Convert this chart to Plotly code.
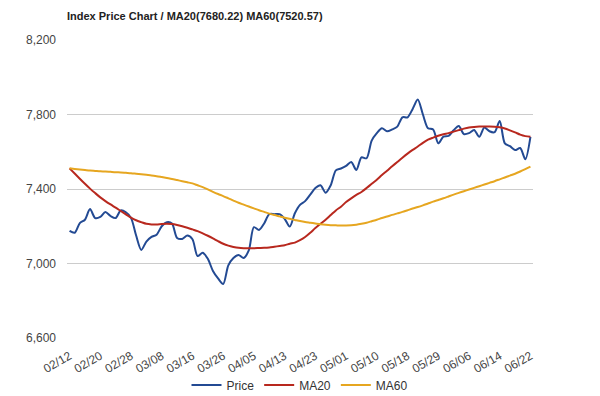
import plotly.graph_objects as go

tick_labels = ["02/12", "02/20", "02/28", "03/08", "03/16", "03/26", "04/05", "04/13",
               "04/23", "05/01", "05/10", "05/18", "05/29", "06/06", "06/14", "06/22"]

price = [7175, 7165, 7217, 7235, 7292, 7244, 7250, 7277, 7255, 7244,
         7285, 7275, 7245, 7150, 7073, 7118, 7143, 7155, 7200, 7222,
         7215, 7137, 7132, 7150, 7130, 7040, 7058, 7025, 6960, 6920,
         6890, 6990, 7030, 7046, 7030, 7070, 7195, 7180, 7215, 7265,
         7265, 7265, 7240, 7198, 7270, 7315, 7335, 7370, 7405, 7420,
         7380, 7420, 7500, 7510, 7524, 7545, 7502, 7570, 7565, 7660,
         7700, 7726, 7710, 7720, 7735, 7785, 7785, 7830, 7880, 7800,
         7726, 7720, 7645, 7681, 7685, 7715, 7738, 7695, 7700, 7717,
         7680, 7730, 7710, 7705, 7765, 7645, 7630, 7609, 7620, 7560,
         7680]

ma20 = [7511, 7483, 7455, 7428, 7402, 7378, 7355, 7335, 7317, 7300,
        7282, 7264, 7246, 7232, 7222, 7213, 7210, 7210, 7212, 7213,
        7212, 7207, 7200, 7192, 7183, 7174, 7162, 7149, 7135, 7120,
        7106, 7096, 7089, 7084, 7082, 7082, 7082, 7083, 7084, 7086,
        7090, 7094, 7098, 7106, 7112, 7125, 7142, 7165, 7190, 7213,
        7235, 7260, 7285, 7305, 7330, 7350, 7368, 7384, 7405, 7428,
        7450, 7475, 7498, 7522, 7545, 7568, 7590, 7610, 7628, 7648,
        7665, 7676, 7686, 7694, 7700, 7708, 7716, 7724, 7730, 7733,
        7735, 7735, 7735, 7734, 7731, 7725, 7715, 7704, 7692, 7684,
        7680.22]

ma60 = [7511, 7508, 7505, 7502, 7499, 7497, 7495, 7494, 7492, 7490,
        7489, 7487, 7485, 7482, 7479, 7476, 7473, 7469, 7464, 7459,
        7454, 7448, 7442, 7436, 7430, 7420, 7410, 7398, 7385, 7373,
        7362, 7350, 7338, 7326, 7316, 7306, 7296, 7286, 7277, 7268,
        7260, 7253, 7246, 7240, 7234, 7228, 7223, 7219, 7215, 7211,
        7208, 7206, 7205, 7204, 7204, 7205, 7208, 7213, 7219, 7227,
        7235, 7244, 7252, 7261, 7269, 7277, 7286, 7295, 7303, 7312,
        7322, 7332, 7341, 7350, 7360, 7370, 7379, 7388, 7397, 7406,
        7415, 7424, 7433, 7442, 7452, 7462, 7472, 7482, 7494, 7507,
        7520.57]

label_step = 6
x_idx = list(range(len(price)))
tick_vals = [i * label_step for i in range(len(tick_labels))]

# the page body has an 8px margin, so the figure is sized to fit the window
W, H = 592, 388

fig = go.Figure()
fig.add_trace(go.Scatter(x=x_idx, y=price, mode="lines", name="Price",
                         line=dict(color="#234a93", width=2, shape="spline", smoothing=0.8)))
fig.add_trace(go.Scatter(x=x_idx, y=ma20, mode="lines", name="MA20",
                         line=dict(color="#b8281e", width=2, shape="spline", smoothing=0.8)))
fig.add_trace(go.Scatter(x=x_idx, y=ma60, mode="lines", name="MA60",
                         line=dict(color="#e6a620", width=2, shape="spline", smoothing=0.8)))

fig.update_layout(
    width=W, height=H,
    margin=dict(l=59, r=67, t=32, b=58, autoexpand=False),
    paper_bgcolor="white", plot_bgcolor="white",
    font=dict(family="Liberation Sans, Arial, sans-serif", size=12, color="#444444"),
    title=dict(text="<b>Index Price Chart / MA20(7680.22) MA60(7520.57)</b>",
               x=59 / W, xanchor="left", xref="container",
               y=1 - 8 / H, yanchor="middle", pad=dict(l=0, t=0, b=0, r=0),
               font=dict(size=11, color="#222222")),
    showlegend=True,
    legend=dict(orientation="h", x=0.5, xanchor="center",
                yref="container", y=1 - 377 / H, yanchor="middle",
                font=dict(size=12, color="#333333"), itemwidth=30, bgcolor="rgba(0,0,0,0)"),
    xaxis=dict(range=[-0.5, len(price) - 0.5], tickmode="array", tickvals=tick_vals,
               ticktext=tick_labels, tickangle=-30, showgrid=False, zeroline=False,
               showline=False, ticks="", ticklabelstandoff=8, automargin=False,
               tickfont=dict(size=12, color="#444444")),
    yaxis=dict(range=[6600, 8200], tickmode="array", tickvals=[6600, 7000, 7400, 7800, 8200],
               tickformat=",d", showgrid=True, gridcolor="#cccccc", gridwidth=1,
               zeroline=False, showline=False, ticks="", ticklabelstandoff=10, automargin=False,
               tickfont=dict(size=12, color="#444444")),
)

fig.write_html("out.html")
